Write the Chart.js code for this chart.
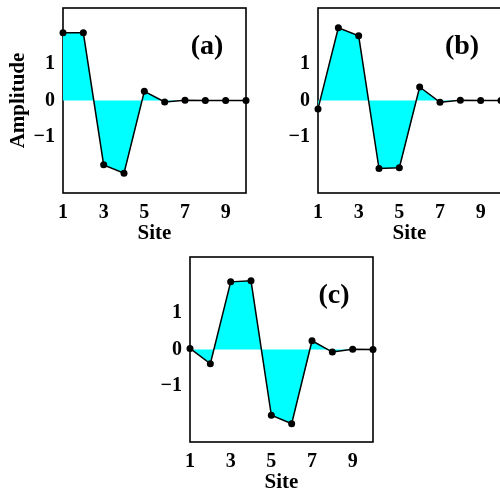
<!DOCTYPE html>
<html>
<head>
<meta charset="utf-8">
<script src="https://cdn.jsdelivr.net/npm/chart.js@4.4.0/dist/chart.umd.min.js"></script>
<style>
  html, body { margin: 0; padding: 0; background: #fff; width: 500px; height: 493px; overflow: hidden; position: relative; }
  canvas { position: absolute; }
</style>
</head>
<body>
<canvas id="ca" width="250" height="250" style="left:0;top:0"></canvas>
<canvas id="cb" width="250" height="250" style="left:255px;top:0"></canvas>
<canvas id="cc" width="250" height="250" style="left:127px;top:249px"></canvas>
<script>
const sites = [1, 2, 3, 4, 5, 6, 7, 8, 9, 10];
const ampA = [1.85, 1.85, -1.76, -1.99, 0.25, -0.04, 0.01, 0, 0, 0];
const ampB = [-0.23, 1.99, 1.77, -1.86, -1.84, 0.37, -0.05, 0.01, 0, 0];
const ampC = [0.03, -0.39, 1.85, 1.88, -1.80, -2.03, 0.24, -0.07, 0.01, 0];
const xTicks = [1, 3, 5, 7, 9];
const yTicks = [-1, 0, 1];

const serif = "'Liberation Serif', 'Times New Roman', serif";

// box round the plot area, drawn under the dots
const framePlugin = {
  id: "frame",
  beforeDatasetsDraw(chart) {
    const { ctx, chartArea: a } = chart;
    ctx.save();
    ctx.strokeStyle = "#000";
    ctx.lineWidth = 1.6;
    ctx.strokeRect(a.left, a.top, a.right - a.left, a.bottom - a.top);
    ctx.restore();
  }
};

const panelPlugin = {
  id: "panel",
  afterDraw(chart, args, opts) {
    const { ctx, chartArea: a } = chart;
    ctx.save();
    ctx.fillStyle = "#000";
    ctx.font = "bold 28px " + serif;
    ctx.textAlign = "center";
    ctx.textBaseline = "middle";
    ctx.fillText(opts.text, a.left + 144, a.top + 39);
    ctx.restore();
  }
};

function makePanel(id, values, label, yTitle) {
  const points = sites.map((s, i) => ({ x: s, y: values[i] }));
  new Chart(document.getElementById(id), {
    type: "line",
    data: {
      datasets: [{
        data: points,
        borderColor: "#000",
        borderWidth: 1.5,
        backgroundColor: "#00ffff",
        fill: "origin",
        tension: 0,
        pointRadius: 3.5,
        pointBackgroundColor: "#000",
        pointBorderColor: "#000",
        pointBorderWidth: 0,
        clip: false
      }]
    },
    options: {
      responsive: false,
      animation: false,
      events: [],
      layout: { padding: { top: 8, right: 1, left: 0, bottom: 0 } },
      plugins: {
        legend: { display: false },
        tooltip: { enabled: false },
        panel: { text: label }
      },
      scales: {
        x: {
          type: "linear",
          min: 1,
          max: 10,
          grid: { display: false, drawTicks: false },
          border: { display: false },
          afterBuildTicks: s => { s.ticks = xTicks.map(v => ({ value: v })); },
          afterFit: s => { s.height = 57; s.paddingLeft = 0; s.paddingRight = 0; },
          ticks: {
            padding: 8,
            maxRotation: 0,
            autoSkip: false,
            color: "#000",
            font: { family: serif, size: 20, weight: "bold" }
          },
          title: {
            display: true,
            text: "Site",
            color: "#000",
            padding: { top: 0, bottom: 4 },
            font: { family: serif, size: 21, weight: "bold" }
          }
        },
        y: {
          min: -2.53,
          max: 2.53,
          grid: { display: false, drawTicks: false },
          border: { display: false },
          afterBuildTicks: s => { s.ticks = yTicks.map(v => ({ value: v })); },
          afterFit: s => { s.width = 63; s.paddingTop = 0; s.paddingBottom = 0; },
          ticks: {
            padding: 8,
            color: "#000",
            font: { family: serif, size: 20, weight: "bold" },
            callback: v => (v < 0 ? "\u2212" + Math.abs(v) : String(v))
          },
          title: {
            display: !!yTitle,
            text: yTitle || "",
            color: "#000",
            padding: { top: 6, bottom: 0 },
            font: { family: serif, size: 21, weight: "bold" }
          }
        }
      }
    },
    plugins: [framePlugin, panelPlugin]
  });
}

makePanel("ca", ampA, "(a)", "Amplitude");
makePanel("cb", ampB, "(b)", null);
makePanel("cc", ampC, "(c)", null);
</script>
</body>
</html>
